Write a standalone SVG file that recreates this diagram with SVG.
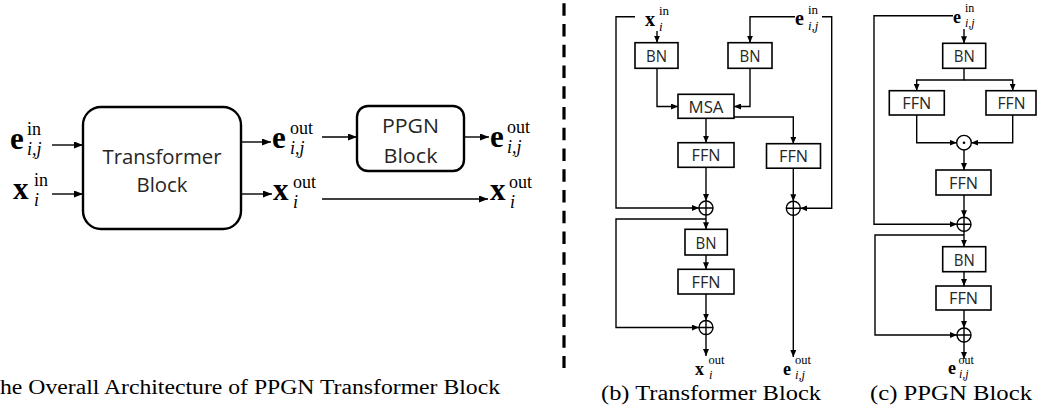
<svg xmlns="http://www.w3.org/2000/svg" width="1037" height="411" viewBox="0 0 1037 411">
<style>
.bx{fill:#fff;stroke:#000;stroke-width:1.6}
.rb{fill:#fff;stroke:#000;stroke-width:2.4}
.ln{fill:none;stroke:#000;stroke-width:1.4}
.lb{font-family:"Open Sans",sans-serif;font-size:17px;fill:#262626;text-anchor:middle}
.big{font-family:"Open Sans",sans-serif;font-size:20.5px;fill:#262626;text-anchor:middle}
.m{font-family:"Liberation Serif",serif;fill:#000}
.b{font-weight:bold}
.it{font-style:italic}
.cap{font-family:"Liberation Serif",serif;font-size:20px;fill:#000}
.op{fill:#fff;stroke:#000;stroke-width:1.4}
</style>
<defs>
<marker id="a" viewBox="0 0 7 6" refX="7" refY="3" markerWidth="7" markerHeight="6" markerUnits="userSpaceOnUse" orient="auto"><path d="M0,0 L7,3 L0,6 z" fill="#000"/></marker>
<marker id="A" viewBox="0 0 9 7" refX="9" refY="3.5" markerWidth="9" markerHeight="7" markerUnits="userSpaceOnUse" orient="auto"><path d="M0,0 L9,3.5 L0,7 z" fill="#000"/></marker>
</defs>

<!-- separator -->
<line x1="564" y1="3.3" x2="564" y2="368" stroke="#000" stroke-width="3.2" stroke-dasharray="12.4 8.35"/>

<!-- ===== Panel (a) ===== -->
<g id="a-transformer">
<rect class="rb" x="83" y="107" width="158" height="122" rx="18"/>
<text class="big" x="162" y="164" textLength="119" lengthAdjust="spacingAndGlyphs">Transformer</text>
<text class="big" x="162" y="192" textLength="51" lengthAdjust="spacingAndGlyphs">Block</text>
</g>
<g id="a-ppgn">
<rect class="rb" x="357" y="106" width="107" height="65" rx="11"/>
<text class="big" x="410.5" y="133" textLength="57" lengthAdjust="spacingAndGlyphs">PPGN</text>
<text class="big" x="410.5" y="163" textLength="54" lengthAdjust="spacingAndGlyphs">Block</text>
</g>
<g id="a-labels" class="m">
<text><tspan class="b" x="10" y="149" font-size="31">e</tspan><tspan x="27" y="135" font-size="18">in</tspan><tspan class="it" x="27" y="155" font-size="18">i,j</tspan></text>
<text><tspan class="b" x="13" y="199" font-size="31">x</tspan><tspan x="34" y="186" font-size="18">in</tspan><tspan class="it" x="34" y="206" font-size="18">i</tspan></text>
<text><tspan class="b" x="272" y="148" font-size="31">e</tspan><tspan x="290" y="134" font-size="18">out</tspan><tspan class="it" x="290" y="154" font-size="18">i,j</tspan></text>
<text><tspan class="b" x="273" y="200" font-size="31">x</tspan><tspan x="293" y="188" font-size="18">out</tspan><tspan class="it" x="293" y="208" font-size="18">i</tspan></text>
<text><tspan class="b" x="490" y="147" font-size="31">e</tspan><tspan x="507" y="133" font-size="18">out</tspan><tspan class="it" x="507" y="153" font-size="18">i,j</tspan></text>
<text><tspan class="b" x="490" y="200" font-size="31">x</tspan><tspan x="509" y="188" font-size="18">out</tspan><tspan class="it" x="510" y="208" font-size="18">i</tspan></text>
</g>

<!-- ===== Panel (b) ===== -->
<g id="b-bn1"><rect class="bx" x="635" y="42.7" width="43" height="25.6"/><text class="lb" x="656.5" y="62" textLength="21" lengthAdjust="spacingAndGlyphs">BN</text></g>
<g id="b-bn2"><rect class="bx" x="728" y="42.7" width="44" height="25.6"/><text class="lb" x="750" y="62" textLength="21" lengthAdjust="spacingAndGlyphs">BN</text></g>
<g id="b-msa"><rect class="bx" x="678" y="94.3" width="56" height="24"/><text class="lb" x="706" y="112.6" textLength="35" lengthAdjust="spacingAndGlyphs">MSA</text></g>
<g id="b-ffn1"><rect class="bx" x="678" y="142.7" width="56" height="24.6"/><text class="lb" x="706" y="161.3" textLength="29" lengthAdjust="spacingAndGlyphs">FFN</text></g>
<g id="b-ffn2"><rect class="bx" x="766.5" y="143.7" width="54" height="24.5"/><text class="lb" x="793.5" y="162.3" textLength="29" lengthAdjust="spacingAndGlyphs">FFN</text></g>
<g id="b-bn3"><rect class="bx" x="685" y="229.3" width="42.3" height="25.7"/><text class="lb" x="706" y="248.5" textLength="21" lengthAdjust="spacingAndGlyphs">BN</text></g>
<g id="b-ffn3"><rect class="bx" x="678" y="269.3" width="56" height="24.7"/><text class="lb" x="706" y="288" textLength="29" lengthAdjust="spacingAndGlyphs">FFN</text></g>
<g id="b-add1"><circle class="op" cx="706" cy="208" r="7"/><path class="ln" d="M699,208 H713 M706,201 V215"/></g>
<g id="b-add2"><circle class="op" cx="793.3" cy="208.3" r="7"/><path class="ln" d="M786.3,208.3 H800.3 M793.3,201.3 V215.3"/></g>
<g id="b-add3"><circle class="op" cx="706" cy="327.5" r="7"/><path class="ln" d="M699,327.5 H713 M706,320.5 V334.5"/></g>
<g id="b-labels" class="m">
<text><tspan class="b" x="645" y="26" font-size="20">x</tspan><tspan x="659" y="15" font-size="13">in</tspan><tspan class="it" x="659" y="30.5" font-size="13">i</tspan></text>
<text><tspan class="b" x="795" y="25" font-size="20">e</tspan><tspan x="808" y="14" font-size="13">in</tspan><tspan class="it" x="808" y="29.5" font-size="13">i,j</tspan></text>
<text><tspan class="b" x="695" y="375" font-size="18">x</tspan><tspan x="708.5" y="364" font-size="12.5">out</tspan><tspan class="it" x="709" y="378.5" font-size="12.5">i</tspan></text>
<text><tspan class="b" x="783" y="375" font-size="18">e</tspan><tspan x="795" y="364" font-size="12.5">out</tspan><tspan class="it" x="795" y="378.5" font-size="12.5">i,j</tspan></text>
</g>

<!-- ===== Panel (c) ===== -->
<g id="c-bn1"><rect class="bx" x="942.7" y="43.3" width="43" height="25"/><text class="lb" x="964.2" y="62.3" textLength="21" lengthAdjust="spacingAndGlyphs">BN</text></g>
<g id="c-ffnl"><rect class="bx" x="889.3" y="90.7" width="55" height="24.3"/><text class="lb" x="916.8" y="109.2" textLength="29" lengthAdjust="spacingAndGlyphs">FFN</text></g>
<g id="c-ffnr"><rect class="bx" x="986" y="90.7" width="50" height="24.3"/><text class="lb" x="1011.5" y="109.2" textLength="28" lengthAdjust="spacingAndGlyphs">FFN</text></g>
<g id="c-mul"><circle class="op" cx="964" cy="142.7" r="7.3"/><circle cx="964" cy="142.7" r="1.3" fill="#000"/></g>
<g id="c-ffn2"><rect class="bx" x="936" y="170" width="55" height="25"/><text class="lb" x="963.5" y="188.8" textLength="29" lengthAdjust="spacingAndGlyphs">FFN</text></g>
<g id="c-add1"><circle class="op" cx="964" cy="224.3" r="7"/><path class="ln" d="M957,224.3 H971 M964,217.3 V231.3"/></g>
<g id="c-bn2"><rect class="bx" x="942.7" y="246.7" width="43" height="25"/><text class="lb" x="964.2" y="265.7" textLength="21" lengthAdjust="spacingAndGlyphs">BN</text></g>
<g id="c-ffn3"><rect class="bx" x="936" y="286" width="55" height="24"/><text class="lb" x="963.5" y="304.3" textLength="29" lengthAdjust="spacingAndGlyphs">FFN</text></g>
<g id="c-add2"><circle class="op" cx="964" cy="335" r="7"/><path class="ln" d="M957,335 H971 M964,328 V342"/></g>
<g id="c-labels" class="m">
<text><tspan class="b" x="953" y="23" font-size="18">e</tspan><tspan x="965" y="12" font-size="12">in</tspan><tspan class="it" x="965" y="27" font-size="12">i,j</tspan></text>
<text><tspan class="b" x="948" y="374" font-size="18">e</tspan><tspan x="958.5" y="363.5" font-size="12">out</tspan><tspan class="it" x="959" y="377.5" font-size="12">i,j</tspan></text>
</g>

<!-- ===== Connectors ===== -->
<g id="connectors" class="ln">
<!-- (a) -->
<path d="M52,145 H83" marker-end="url(#A)"/>
<path d="M52,194 H83" marker-end="url(#A)"/>
<path d="M241,142 H271" marker-end="url(#A)"/>
<path d="M241,194 H272" marker-end="url(#A)"/>
<path d="M322,137 H357" marker-end="url(#A)"/>
<path d="M464,137 H489" marker-end="url(#A)"/>
<path d="M322,199 H488" marker-end="url(#A)"/>
<!-- (b) -->
<path d="M657,31 V42.7" marker-end="url(#a)"/>
<path d="M635,16.7 H616 V208 H699" marker-end="url(#a)"/>
<path d="M795,16.7 H750 V42.7" marker-end="url(#a)"/>
<path d="M822,16.7 H831.7 V208.3 H800.3" marker-end="url(#a)"/>
<path d="M657,68.3 V106.5 H678" marker-end="url(#a)"/>
<path d="M750,68.3 V106.5 H734" marker-end="url(#a)"/>
<path d="M706,118.3 V142.7" marker-end="url(#a)"/>
<path d="M734,117 H793.3 V143.7" marker-end="url(#a)"/>
<path d="M706,167.3 V201" marker-end="url(#a)"/>
<path d="M793.3,168.2 V201.3" marker-end="url(#a)"/>
<path d="M706,215 V229.3" marker-end="url(#a)"/>
<path d="M706,219 H616 V327.5 H699" marker-end="url(#a)"/>
<path d="M706,255 V269.3" marker-end="url(#a)"/>
<path d="M706,294 V320.5" marker-end="url(#a)"/>
<path d="M706,334.5 V356" marker-end="url(#a)"/>
<path d="M793.3,215.3 V357" marker-end="url(#a)"/>
<!-- (c) -->
<path d="M964,29 V43.3" marker-end="url(#a)"/>
<path d="M953,15.7 H874 V224.3 H957" marker-end="url(#a)"/>
<path d="M964,68.3 V80 H916.7 V90.7" marker-end="url(#a)"/>
<path d="M964,80 H1012.7 V90.7" marker-end="url(#a)"/>
<path d="M916.7,115 V142.7 H956.7" marker-end="url(#a)"/>
<path d="M1012.7,115 V142.7 H971.3" marker-end="url(#a)"/>
<path d="M964,150 V170" marker-end="url(#a)"/>
<path d="M964,195 V217.3" marker-end="url(#a)"/>
<path d="M964,231.3 V246.7" marker-end="url(#a)"/>
<path d="M964,235 H875 V335 H957" marker-end="url(#a)"/>
<path d="M964,271.7 V286" marker-end="url(#a)"/>
<path d="M964,310 V328" marker-end="url(#a)"/>
<path d="M964,342 V359" marker-end="url(#a)"/>
</g>

<!-- captions -->
<text class="cap" x="0" y="394" textLength="500" lengthAdjust="spacingAndGlyphs">he Overall Architecture of PPGN Transformer Block</text>
<text class="cap" x="601" y="400" textLength="220" lengthAdjust="spacingAndGlyphs">(b) Transformer Block</text>
<text class="cap" x="870" y="400" textLength="162" lengthAdjust="spacingAndGlyphs">(c) PPGN Block</text>
</svg>
